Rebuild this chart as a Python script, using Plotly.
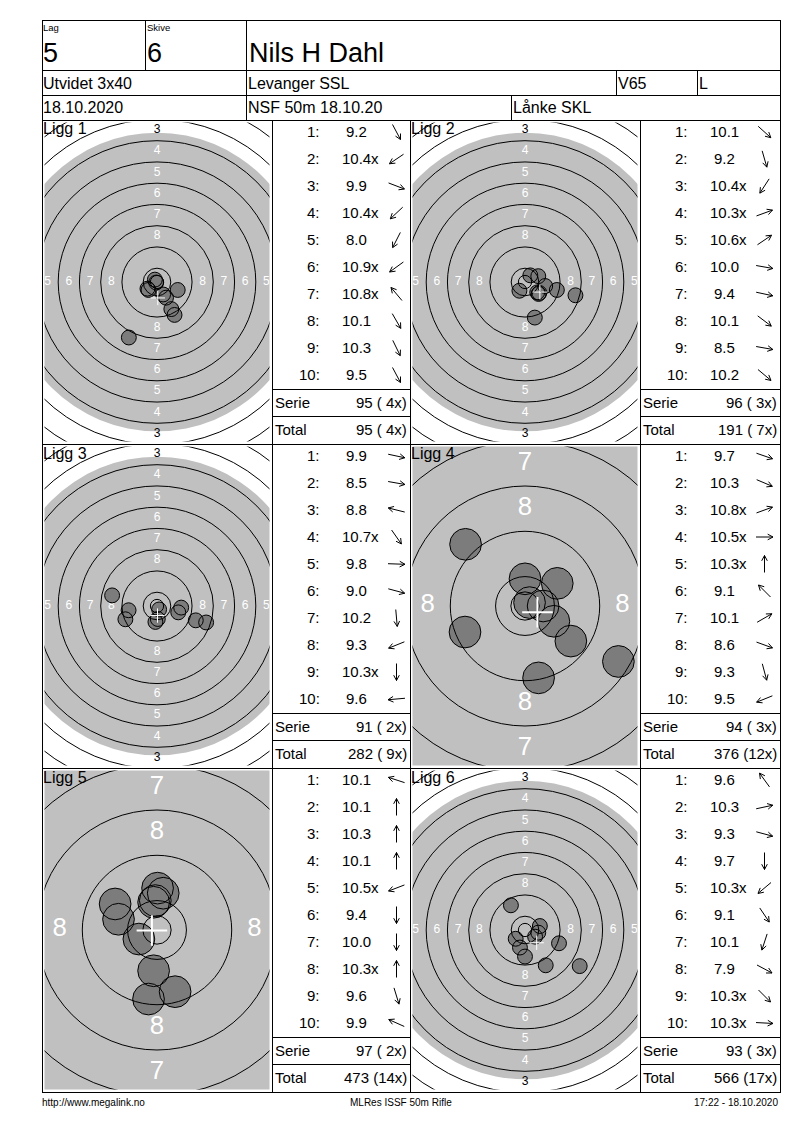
import math
import plotly.graph_objects as go

W, H = 800, 1130
FONT = "Liberation Sans, Arial, sans-serif"

# ---------------- header / footer texts ----------------
lag_value = "5"
skive_value = "6"
shooter_name = "Nils H Dahl"
program_name = "Utvidet 3x40"
club_name = "Levanger SSL"
class_name = "V65"
side_name = "L"
date_text = "18.10.2020"
event_text = "NSF 50m 18.10.20"
range_text = "Lånke SKL"
footer_left = "http://www.megalink.no"
footer_mid = "MLRes ISSF 50m Rifle"
footer_right = "17:22 - 18.10.2020"

# ---------------- series (Ligg) ----------------
ligg_titles = ["Ligg 1", "Ligg 2", "Ligg 3", "Ligg 4", "Ligg 5", "Ligg 6"]
ligg_zoomed = [False, False, False, True, True, False]

scores_1 = ["9.2", "10.4x", "9.9", "10.4x", "8.0", "10.9x", "10.8x", "10.1", "10.3", "9.5"]
scores_2 = ["10.1", "9.2", "10.4x", "10.3x", "10.6x", "10.0", "9.4", "10.1", "8.5", "10.2"]
scores_3 = ["9.9", "8.5", "8.8", "10.7x", "9.8", "9.0", "10.2", "9.3", "10.3x", "9.6"]
scores_4 = ["9.7", "10.3", "10.8x", "10.5x", "10.3x", "9.1", "10.1", "8.6", "9.3", "9.5"]
scores_5 = ["10.1", "10.1", "10.3", "10.1", "10.5x", "9.4", "10.0", "10.3x", "9.6", "9.9"]
scores_6 = ["9.6", "10.3", "9.3", "9.7", "10.3x", "9.1", "10.1", "7.9", "10.3x", "10.3x"]

# direction arrows in the table (degrees, 0 = right, 90 = up)
arrows_1 = [-62, -146, -21, -137, -117, -144, 130, -60, -64, -62]
arrows_2 = [-42, -74, -123, 20, 34, -10, -12, -37, -10, -40]
arrows_3 = [-12, -10, 166, -55, -2, -15, -85, -158, -90, -175]
arrows_4 = [-19, -23, 20, 0, 90, 135, 30, -20, -75, -158]
arrows_5 = [162, 90, 90, 90, -159, -90, -90, 90, -73, 156]
arrows_6 = [126, 12, -15, -90, -140, -56, -108, -28, -45, -3]

# shot positions on the target (mm from centre)
shots_x_1 = [6.6, -3.6, 7.8, -3.2, -10.6, -0.3, -0.8, 3.4, 2.3, 5.4]
shots_y_1 = [-12.4, -2.5, -3.0, -3.0, -20.9, -0.2, 0.9, -5.9, -4.7, -10.2]
shots_x_2 = [5.1, 3.7, -2.1, 5.0, 2.0, 7.6, 12.0, 5.4, 19.0, 4.6]
shots_y_2 = [-4.5, -13.4, -3.3, 2.2, 2.5, -1.5, -3.0, -4.1, -5.0, -3.9]
shots_x_3 = [8.0, 18.5, -16.9, 0.8, 9.1, 14.6, -0.6, -11.9, 0.3, -10.7]
shots_y_3 = [-2.4, -6.2, 4.0, -1.3, -0.6, -5.4, -6.0, -5.0, -4.9, -1.6]
shots_x_4 = [8.1, 5.1, 0.8, 3.2, 0.0, -10.5, 5.7, 16.5, 2.4, -10.6]
shots_y_4 = [-6.2, -2.7, 0.6, 0.0, 4.8, 10.9, 4.0, -9.8, -12.7, -4.6]
shots_x_5 = [-6.8, 0.1, -0.6, 1.1, -3.2, -1.5, -0.6, -0.3, 3.2, -7.4]
shots_y_5 = [1.9, 7.4, 4.9, 6.5, -1.6, -12.2, -7.2, 5.2, -10.9, 4.6]
shots_x_6 = [-5.3, 5.6, 12.8, 0.0, -3.5, 7.8, -1.9, 20.6, 3.8, 5.0]
shots_y_6 = [9.3, 1.5, -5.0, -10.0, -3.3, -13.3, -6.6, -13.6, -2.5, -1.0]

# mean point of impact (white cross), mm
cross_x = [0.3, 5.6, 0.2, 2.2, -0.9, 4.4]
cross_y = [-6.0, -3.8, -3.6, -1.1, -0.1, -4.8]

serie_values = ["95 ( 4x)", "96 ( 3x)", "91 ( 2x)", "94 ( 3x)", "97 ( 2x)", "93 ( 3x)"]
total_values = ["95 ( 4x)", "191 ( 7x)", "282 ( 9x)", "376 (12x)", "473 (14x)", "566 (17x)"]

ring_numbers = [1, 2, 3, 4, 5, 6, 7, 8, 9, 10]
label_rings = [3, 4, 5, 6, 7, 8]

all_scores = [scores_1, scores_2, scores_3, scores_4, scores_5, scores_6]
all_arrows = [arrows_1, arrows_2, arrows_3, arrows_4, arrows_5, arrows_6]
all_sx = [shots_x_1, shots_x_2, shots_x_3, shots_x_4, shots_x_5, shots_x_6]
all_sy = [shots_y_1, shots_y_2, shots_y_3, shots_y_4, shots_y_5, shots_y_6]

# ---------------- target geometry (ISSF 50m rifle, mm) ----------------
R10 = 5.2
RING_STEP = 8.0
INNER_TEN = 2.5
BLACK_R = 56.2
BULLET = 5.6
SCALE_NORMAL = 2.656   # px per mm
SCALE_ZOOM = 5.66
LABEL_MM = 4.55         # ring number font size in mm

def ring_r(n):
    return R10 + RING_STEP * (10 - n)

# ---------------- page layout (px) ----------------
X_L, X_R = 42, 780
Y_TOP, Y_BOT = 20, 1092
ROW_TOPS = [120, 444, 768]
ROW_H = 324
TARGET_LEFTS = [42, 410]
TARGET_W = 230
TABLE_LEFTS = [272, 640]
TABLE_RIGHTS = [410, 780]
INSET = 2.5

def fx(x):
    return x / W

def fy(y):
    return 1 - y / H

shapes, annotations, traces = [], [], []
layout_axes = {}

def hline(x0, x1, y):
    shapes.append(dict(type="line", xref="paper", yref="paper", x0=fx(x0), x1=fx(x1 + 1),
                       y0=fy(y + 0.5), y1=fy(y + 0.5), line=dict(color="black", width=1)))

def vline(x, y0, y1):
    shapes.append(dict(type="line", xref="paper", yref="paper", x0=fx(x + 0.5), x1=fx(x + 0.5),
                       y0=fy(y0), y1=fy(y1 + 1), line=dict(color="black", width=1)))

def text(x, y, s, size, anchor="left", color="black"):
    annotations.append(dict(xref="paper", yref="paper", x=fx(x), y=fy(y), text=s, showarrow=False,
                            xanchor=anchor, yanchor="middle", borderpad=0, borderwidth=0,
                            font=dict(family=FONT, size=size, color=color)))

def text_w(s, size):
    return sum(0.278 if c == "." else 0.556 for c in s) * size

# ---------------- frame ----------------
vline(X_L, Y_TOP, Y_BOT)
vline(X_R, Y_TOP, Y_BOT)
for yy in [Y_TOP, 70, 95, 120, 444, 768, Y_BOT]:
    hline(X_L, X_R, yy)
vline(145, Y_TOP, 70)
vline(246, Y_TOP, 120)
vline(616, 70, 95)
vline(697, 70, 95)
vline(511, 95, 120)
for xx in [272, 410, 640]:
    vline(xx, 120, Y_BOT)

# ---------------- header texts ----------------
text(43, 27.5, "Lag", 9.5)
text(147, 27.5, "Skive", 9.5)
text(43, 53.5, lag_value, 27)
text(147, 53.5, skive_value, 27)
text(249, 53.5, shooter_name, 27)
text(43, 83, program_name, 16)
text(248, 83, club_name, 16)
text(618, 83, class_name, 16)
text(699, 83, side_name, 16)
text(43, 108, date_text, 16)
text(248, 108, event_text, 16)
text(513, 108, range_text, 16)

# ---------------- footer ----------------
text(42, 1102, footer_left, 10)
text(401, 1102, footer_mid, 10, anchor="center")
text(778, 1102, footer_right, 10, anchor="right")

# ---------------- panels ----------------
for i in range(6):
    row, col = i // 2, i % 2
    T = ROW_TOPS[row]
    tx0 = TARGET_LEFTS[col]
    scale = SCALE_ZOOM if ligg_zoomed[i] else SCALE_NORMAL
    suffix = "" if i == 0 else str(i + 1)
    xa, ya = "x" + suffix, "y" + suffix
    half_w = (TARGET_W - 2 * INSET) / 2 / scale
    half_h = (ROW_H - 2 * INSET) / 2 / scale
    layout_axes["xaxis" + suffix] = dict(domain=[fx(tx0 + INSET), fx(tx0 + TARGET_W - INSET)],
                                         range=[-half_w, half_w], visible=False, anchor=ya,
                                         fixedrange=True)
    layout_axes["yaxis" + suffix] = dict(domain=[fy(T + ROW_H - INSET), fy(T + INSET)],
                                         range=[-half_h, half_h], visible=False, anchor=xa,
                                         fixedrange=True)

    # black (grey) aiming area
    shapes.append(dict(type="circle", xref=xa, yref=ya, x0=-BLACK_R, x1=BLACK_R, y0=-BLACK_R, y1=BLACK_R,
                       fillcolor="#c0c0c0", line=dict(width=0), layer="below"))
    # ring number labels (only those whose centre falls inside the visible target area)
    lx, ly, lt, lc = [], [], [], []
    for n in label_rings:
        d = ring_r(n) - RING_STEP / 2
        c = "white" if d < BLACK_R else "black"
        for (ux, uy) in [(0, 1), (0, -1), (-1, 0), (1, 0)]:
            if abs(ux * d) >= half_w or abs(uy * d) >= half_h:
                continue
            lx.append(ux * d)
            ly.append(uy * d)
            lt.append(str(n))
            lc.append(c)
    traces.append(go.Scatter(x=lx, y=ly, text=lt, mode="text", xaxis=xa, yaxis=ya,
                             textfont=dict(family=FONT, size=LABEL_MM * scale, color=lc),
                             hoverinfo="skip", showlegend=False))
    # shots
    msize = BULLET * scale
    traces.append(go.Scatter(x=all_sx[i], y=all_sy[i], mode="markers", xaxis=xa, yaxis=ya,
                             marker=dict(size=msize, color="#7c7c7c", line=dict(width=0)),
                             hoverinfo="skip", showlegend=False))
    traces.append(go.Scatter(x=all_sx[i], y=all_sy[i], mode="markers", xaxis=xa, yaxis=ya,
                             marker=dict(size=msize, color="rgba(0,0,0,0)",
                                         line=dict(width=1, color="black")),
                             hoverinfo="skip", showlegend=False))
    # rings
    for n in ring_numbers:
        r = ring_r(n)
        shapes.append(dict(type="circle", xref=xa, yref=ya, x0=-r, x1=r, y0=-r, y1=r,
                           line=dict(color="black", width=1), layer="above"))
    shapes.append(dict(type="circle", xref=xa, yref=ya, x0=-INNER_TEN, x1=INNER_TEN,
                       y0=-INNER_TEN, y1=INNER_TEN, line=dict(color="black", width=1), layer="above"))
    # white cross (mean point of impact)
    cw = 2 if ligg_zoomed[i] else 1
    arm = 2.7
    shapes.append(dict(type="line", xref=xa, yref=ya, x0=cross_x[i] - arm, x1=cross_x[i] + arm,
                       y0=cross_y[i], y1=cross_y[i], line=dict(color="white", width=cw), layer="above"))
    shapes.append(dict(type="line", xref=xa, yref=ya, x0=cross_x[i], x1=cross_x[i],
                       y0=cross_y[i] - arm, y1=cross_y[i] + arm, line=dict(color="white", width=cw),
                       layer="above"))
    # title
    text(tx0 + 1, T + 9, ligg_titles[i], 16)

    # ---------- table ----------
    TL, TR = TABLE_LEFTS[col], TABLE_RIGHTS[col]
    for j, s in enumerate(all_scores[i]):
        yc = T + 11.5 + 27 * j
        text(TL + 48, yc, f"{j + 1}:", 15, anchor="right")
        num = s.rstrip("x")
        text(TL + 84, yc, num, 15, anchor="center")
        if s.endswith("x"):
            text(TL + 84 + text_w(num, 15) / 2, yc, "x", 15, anchor="left")
        a = math.radians(all_arrows[i][j])
        cx, cy = TL + 124.5, yc + 0.5
        L = 17
        tail = (cx - L / 2 * math.cos(a), cy + L / 2 * math.sin(a))
        tip = (cx + L / 2 * math.cos(a), cy - L / 2 * math.sin(a))
        wings = []
        for da in (math.radians(28), -math.radians(28)):
            b = a + math.pi + da
            wings.append((tip[0] + 6 * math.cos(b), tip[1] - 6 * math.sin(b)))
        path = (f"M{fx(tail[0])},{fy(tail[1])} L{fx(tip[0])},{fy(tip[1])} "
                f"M{fx(wings[0][0])},{fy(wings[0][1])} L{fx(tip[0])},{fy(tip[1])} "
                f"L{fx(wings[1][0])},{fy(wings[1][1])}")
        shapes.append(dict(type="path", xref="paper", yref="paper", path=path,
                           line=dict(color="black", width=1)))
    hline(TL, TR, T + 269)
    hline(TL, TR, T + 296)
    text(TL + 3, T + 282.5, "Serie", 15)
    text(TR - 3, T + 282.5, serie_values[i], 15, anchor="right")
    text(TL + 3, T + 309.5, "Total", 15)
    text(TR - 3, T + 309.5, total_values[i], 15, anchor="right")

fig = go.Figure(data=traces)
fig.update_layout(width=W, height=H, margin=dict(l=0, r=0, t=0, b=0),
                  paper_bgcolor="white", plot_bgcolor="white", showlegend=False,
                  shapes=shapes, annotations=annotations, **layout_axes)
fig.write_html("out.html", config={"displayModeBar": False},
               post_script="document.body.style.margin='0';document.body.style.overflow='hidden';")
